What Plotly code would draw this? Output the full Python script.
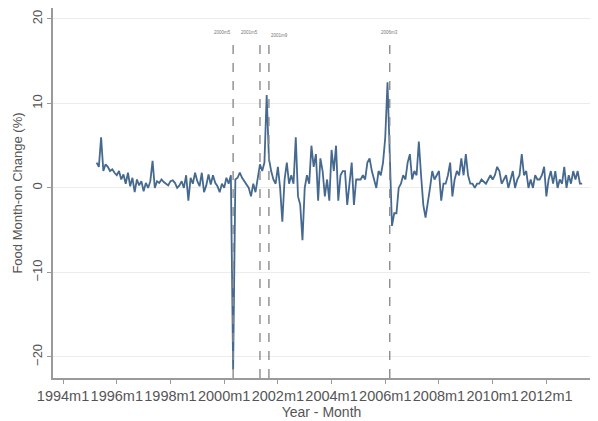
import plotly.graph_objects as go

# Monthly series: months counted from 1994m1 (0 = 1994m1)
start_month = 15  # 1995m4
food_mom = [
    3.0, 2.5, 6.0, 2.0, 2.8, 2.5, 2.0, 2.2, 1.8, 1.5, 2.0, 1.0, 1.6, 0.5, 1.8, 0.2,
    1.2, -0.5, 1.0, 0.3, 0.8, -0.4, 0.6, 0.0, 0.8, 3.2, 0.0, 0.8, 0.6, 1.0, 0.7, 0.5,
    0.3, 0.8, 0.9, 0.6, 0.0, 0.3, 0.8, 0.0, 1.5, -1.5, 1.2, 0.5, 1.8, 0.8, 0.2, 1.8,
    -0.5, 0.3, 1.6, 0.4, 1.5, 0.6, 0.2, -0.5, 0.5, 0.0, 1.2, 0.5, 1.5, -21.5, 1.0, 1.2,
    1.8, 1.2, 0.8, 0.5, 0.0, -1.0, 0.5, -0.5, 1.0, 2.8, 2.0, 3.0, 11.0, 3.5, 2.0, 1.0,
    0.5, 2.5, 0.0, -4.0, 1.0, 3.0, 0.5, 1.5, 0.5, 6.0, -1.0, -2.0, -6.2, 0.0, 1.5, 0.5,
    5.0, 2.5, 4.0, -1.5, 3.5, 2.0, -1.0, 1.0, -1.5, 4.5, 2.0, 5.0, -1.5, 1.5, 2.0, 2.0,
    -2.0, 0.5, 3.0, -2.0, 1.0, 1.0, 1.0, 1.5, 1.0, 3.0, 3.5, 2.0, 1.0, 0.0, 2.0, 1.5,
    3.0, 6.0, 12.5, 4.0, -4.5, -3.0, -3.0, 0.0, 0.5, 1.5, 1.0, 3.0, 4.0, 1.0, 2.0, 1.5,
    5.5, 1.5, -2.0, -3.5, -2.0, 0.0, 2.0, 1.0, 1.5, 2.0, -1.5, 0.5, 0.5, 1.5, 3.0, -1.0,
    1.0, 2.0, 1.5, 3.5, 1.5, 4.0, 1.5, 0.5, 0.5, 0.0, 0.5, 0.5, 1.0, 0.8, 0.5, 1.0,
    1.5, 1.0, 1.5, 2.5, 2.0, 0.5, 1.0, 1.5, 0.0, 1.0, 2.0, 0.0, 1.0, 1.5, 4.0, 1.5,
    2.0, 0.0, 1.0, 0.0, 1.5, 1.0, 1.0, 1.5, 2.5, -1.0, 1.0, 2.0, 0.5, 2.0, 0.0, 1.0,
    0.5, 2.5, 0.0, 1.5, 0.5, 2.0, 1.0, 2.0, 0.5, 0.5,
]
months = list(range(start_month, start_month + len(food_mom)))

x_tick_vals = [0, 24, 48, 72, 96, 120, 144, 168, 192, 216]
x_tick_text = ["1994m1", "1996m1", "1998m1", "2000m1", "2002m1",
               "2004m1", "2006m1", "2008m1", "2010m1", "2012m1"]
y_tick_vals = [-20, -10, 0, 10, 20]

event_months = [76, 88, 92, 146]
event_labels = ["2000m5", "2001m5", "2001m9", "2006m3"]
event_top = 17.8
label_anchor = ["right", "right", "left", "center"]
label_drop = [0, 0, -3, 0]

fig = go.Figure()
fig.add_trace(go.Scatter(
    x=months, y=food_mom, mode="lines",
    line=dict(color="#46698f", width=1.8),
    showlegend=False, hoverinfo="skip",
))

for m, lab, anc, drop in zip(event_months, event_labels, label_anchor, label_drop):
    fig.add_shape(type="line", xref="x", yref="y", x0=m, x1=m,
                  y0=-22.5, y1=event_top,
                  line=dict(color="#8c8c8c", width=1.4, dash="dash"))
    fig.add_annotation(x=m, y=event_top, xref="x", yref="y", text=lab,
                       showarrow=False, yanchor="bottom", xanchor=anc,
                       yshift=1 + drop, font=dict(size=4.5, color="#777777"))

fig.update_layout(
    width=598, height=421,
    margin=dict(l=53, r=8, t=8, b=43),
    paper_bgcolor="white", plot_bgcolor="white",
    font=dict(family="Liberation Sans, Arial, sans-serif", color="#444444"),
    xaxis=dict(
        range=[-4.5, 235.5], tickvals=x_tick_vals, ticktext=x_tick_text,
        tickangle=0,
        showgrid=False, zeroline=False, showline=True, linecolor="#9a9a9a",
        linewidth=1.5, ticks="outside", ticklen=4, tickcolor="#9a9a9a",
        tickfont=dict(size=14.5, color="#555555"),
        title=dict(text="Year - Month", font=dict(size=14, color="#555555"),
                   standoff=0),
    ),
    yaxis=dict(
        range=[-22.5, 21.3], tickvals=y_tick_vals, tickangle=-90,
        showgrid=True, gridcolor="#ececec", gridwidth=1, zeroline=False,
        showline=True, linecolor="#9a9a9a", linewidth=1.5,
        ticks="outside", ticklen=4, tickcolor="#9a9a9a",
        tickfont=dict(size=13, color="#555555"),
        title=dict(text="Food Month-on Change (%)",
                   font=dict(size=13, color="#555555"), standoff=4),
    ),
)

fig.write_html("out.html")
